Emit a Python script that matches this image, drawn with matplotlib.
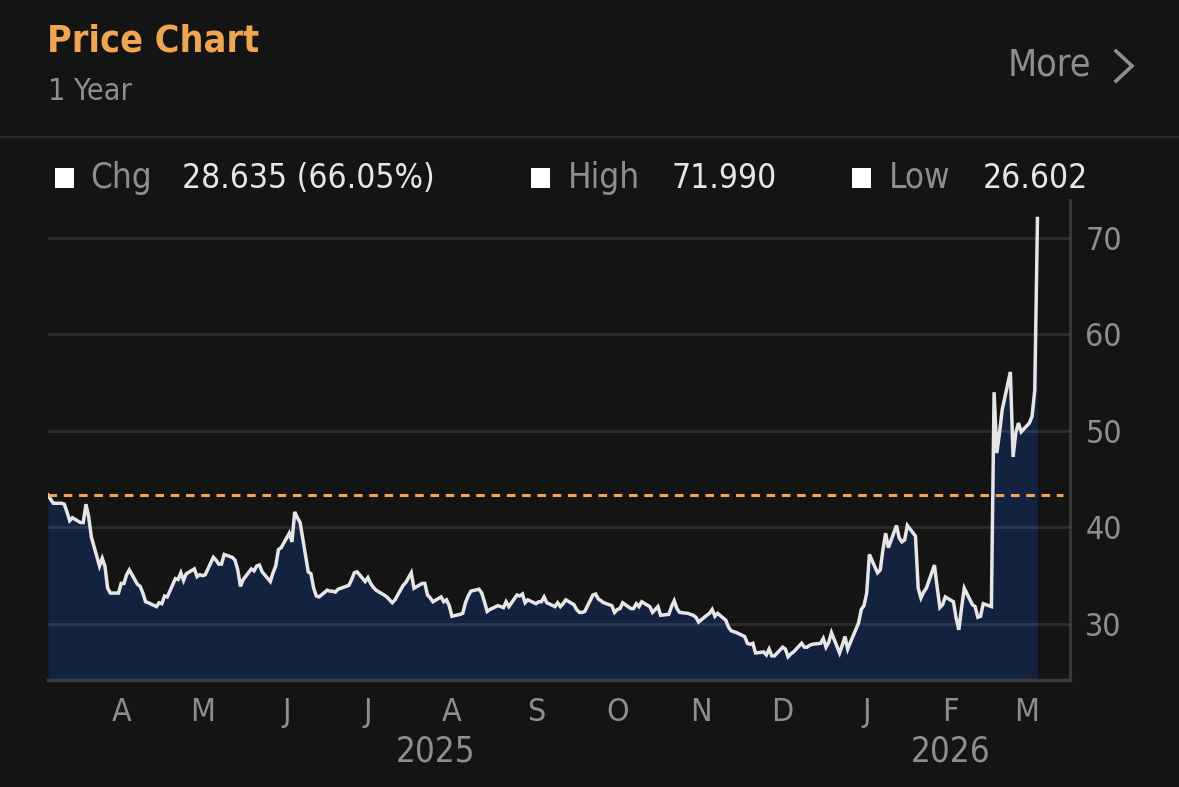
import numpy as np
import pandas as pd
import matplotlib
matplotlib.use("Agg")
import matplotlib.pyplot as plt
import matplotlib.dates as mdates
from matplotlib import font_manager
from matplotlib.lines import Line2D
from matplotlib.patches import Rectangle

# Daily closing prices, 1 year (business days from 2025-03-05)
start_date = "2025-03-05"
prices = [
    43.36, 42.9, 42.5, 42.5, 42.4, 41.6, 40.7, 41.0, 40.5, 40.5,
    42.4, 41.1, 39.0, 36.0, 36.8, 36.0, 33.7, 33.2, 33.2, 34.2,
    34.2, 35.1, 35.6, 34.1, 33.9, 33.2, 32.3, 32.2, 31.8, 32.2,
    32.1, 32.9, 32.8, 34.7, 34.6, 35.3, 34.5, 35.2, 35.7, 34.9,
    35.1, 35.0, 35.1, 36.9, 36.6, 36.2, 36.2, 37.2, 36.9, 36.6,
    35.6, 33.9, 34.6, 35.7, 35.5, 36.0, 36.1, 35.4, 34.4, 35.3,
    36.0, 37.7, 37.9, 39.4, 38.5, 41.6, 41.0, 40.5, 35.4, 35.2,
    33.7, 32.9, 32.8, 33.5, 33.4, 33.4, 33.3, 33.6, 33.9, 34.0,
    34.6, 35.3, 35.4, 34.4, 34.8, 34.2, 33.8, 33.5, 33.0, 32.8,
    32.5, 32.2, 32.5, 34.0, 34.3, 34.8, 35.3, 33.7, 34.2, 34.2,
    33.0, 32.7, 32.3, 32.8, 32.3, 32.5, 31.9, 30.8, 31.0, 31.1,
    32.2, 32.9, 33.4, 33.6, 33.2, 32.3, 31.3, 31.5, 31.9, 31.8,
    31.7, 32.3, 31.8, 33.0, 32.9, 33.1, 32.2, 32.5, 32.1, 32.3,
    32.3, 32.8, 32.2, 31.8, 32.2, 31.8, 32.1, 32.5, 32.0, 31.5,
    31.2, 31.2, 31.3, 33.0, 33.1, 32.6, 32.4, 32.2, 31.9, 31.2,
    31.5, 31.6, 32.2, 31.6, 31.6, 32.1, 31.8, 32.3, 31.8, 31.2,
    31.5, 31.8, 30.9, 31.0, 31.8, 32.4, 31.6, 31.2, 31.1, 31.0,
    30.9, 30.7, 30.2, 30.9, 31.1, 31.5, 30.8, 31.1, 30.4, 29.7,
    29.3, 29.2, 29.1, 28.7, 28.0, 27.9, 28.0, 27.0, 27.1, 26.8,
    27.4, 26.7, 26.7, 27.6, 27.4, 26.602, 26.9, 27.1, 28.0, 27.6,
    27.6, 27.8, 27.9, 28.0, 28.5, 27.6, 28.1, 29.1, 27.0, 27.8,
    28.7, 27.4, 28.1, 30.1, 31.5, 31.9, 33.2, 37.2, 35.3, 35.6,
    37.7, 39.4, 37.9, 40.2, 38.9, 38.5, 38.7, 40.2, 39.1, 33.7,
    32.7, 33.3, 33.7, 36.1, 33.8, 31.7, 32.0, 32.8, 32.3, 30.6,
    29.4, 31.7, 33.7, 32.0, 31.8, 30.7, 30.8, 32.1, 31.8, 54.0,
    47.7, 49.8, 52.2, 56.1, 47.3, 49.8, 50.8, 49.9, 50.8, 51.5,
    54.2, 71.99,
]
y_ticks = [30, 40, 50, 60, 70]
chg_value = "28.635 (66.05%)"
high_value = "71.990"
low_value = "26.602"
year_labels = ["2025", "2026"]
year_label_dates = ["2025-07-26", "2026-02-01"]

dates = pd.bdate_range(start_date, periods=len(prices))

# Colours
bg = "#141414"
orange = "#f0a552"
gray = "#8e8e8e"
text_white = "#e6e6e6"
navy = "#12223f"

# pick a condensed font if there is one
fam = "DejaVu Sans"
stretch = "normal"
for f in font_manager.fontManager.ttflist:
    if f.name == "DejaVu Sans" and "ondensed" in f.fname:
        stretch = "condensed"
if stretch == "normal":
    names = {f.name for f in font_manager.fontManager.ttflist}
    if "Liberation Sans Narrow" in names:
        fam = "Liberation Sans Narrow"
plt.rcParams["font.family"] = fam
plt.rcParams["font.stretch"] = stretch

W, H = 1179, 787
fig = plt.figure(figsize=(W / 100, H / 100), dpi=100, facecolor=bg)


def fx(px):
    return px / W


def fy(py):
    return 1 - py / H


# Header
fig.text(fx(47), fy(41), "Price Chart", color=orange, fontsize=27, fontweight="bold",
         va="center", ha="left")
fig.text(fx(48), fy(92), "1 Year", color=gray, fontsize=22, va="center", ha="left")
fig.text(fx(1091), fy(66), "More", color=gray, fontsize=27, va="center", ha="right")
fig.add_artist(Line2D([fx(1116), fx(1132), fx(1116)], [fy(51), fy(66), fy(81)],
                      color=gray, linewidth=2.6, solid_joinstyle="miter"))
fig.add_artist(Line2D([0, 1], [fy(137), fy(137)], color="#2a2a2a", linewidth=1.5))

# Legend row: square x, label x, value x (pixels)
legend_items = [(55, 90, 182, "Chg", chg_value),
                (531, 568, 672, "High", high_value),
                (852, 889, 983, "Low", low_value)]
for sq, lx, vx, name, val in legend_items:
    fig.add_artist(Rectangle((fx(sq), fy(188)), fx(19), 20 / H, transform=fig.transFigure,
                             facecolor="white", edgecolor="none"))
    fig.text(fx(lx), fy(178), name, color=gray, fontsize=25, va="center", ha="left")
    fig.text(fx(vx), fy(178), val, color=text_white, fontsize=24, va="center", ha="left")

# Chart
ax = fig.add_axes([fx(48), 1 - 680 / H, fx(1070 - 48), (680 - 200) / H])
ax.set_facecolor(bg)

ymin, ymax = 24.2, 73.9
ax.fill_between(dates, prices, ymin, color=navy, linewidth=0, zorder=1)
ax.plot(dates, prices, color=text_white, linewidth=2.5, zorder=3, solid_joinstyle="miter")
ax.axhline(prices[0], xmin=0, xmax=0.993, color=orange, linewidth=2.2,
           linestyle=(0, (2.8, 2.2)), zorder=4)

ax.set_ylim(ymin, ymax)
ax.set_xlim(pd.Timestamp(start_date), pd.Timestamp("2026-03-17"))
ax.set_yticks(y_ticks)
ax.yaxis.tick_right()
ax.grid(axis="y", color="white", alpha=0.1, linewidth=2, zorder=2)
ax.set_axisbelow(False)

ax.xaxis.set_major_locator(mdates.MonthLocator())
ax.xaxis.set_major_formatter(plt.FuncFormatter(lambda v, p: mdates.num2date(v).strftime("%b")[0]))
ax.tick_params(axis="x", length=0, pad=12, labelsize=23, labelcolor=gray)
ax.tick_params(axis="y", length=0, pad=11, labelsize=23, labelcolor=gray)

for s in ["top", "left"]:
    ax.spines[s].set_visible(False)
ax.spines["right"].set_color("#3a3a3a")
ax.spines["right"].set_linewidth(2)
ax.spines["bottom"].set_color("#3a3a3a")
ax.spines["bottom"].set_linewidth(2.5)

for lbl, d in zip(year_labels, year_label_dates):
    ax.text(pd.Timestamp(d), -0.15, lbl, transform=ax.get_xaxis_transform(),
            color=gray, fontsize=25, ha="center", va="center")

fig.savefig("out.png", dpi=100, facecolor=bg)
